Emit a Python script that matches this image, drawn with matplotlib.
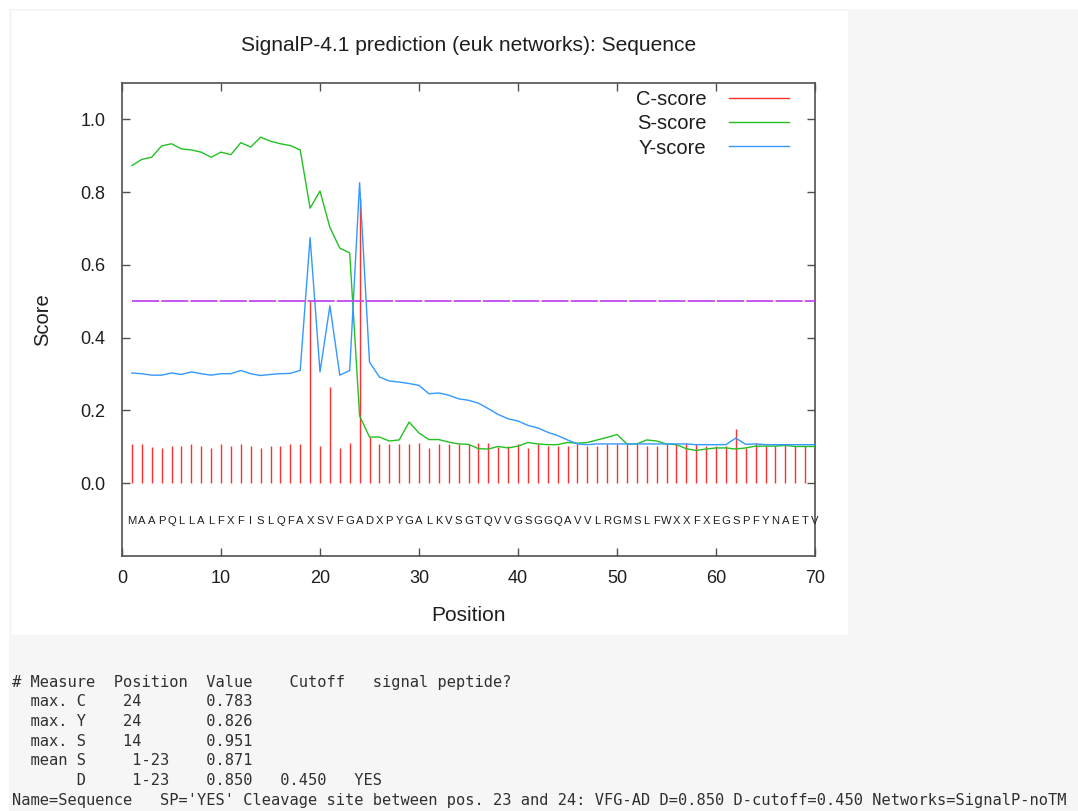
import matplotlib
matplotlib.use("Agg")
import matplotlib.pyplot as plt
from matplotlib.lines import Line2D
from matplotlib.patches import Rectangle

# ---- data -------------------------------------------------------------
positions = list(range(1, 71))
sequence = list("MAAPQLLALFXFISLQFAXSVFGADXPYGALKVSGTQVVGSGGQAVVLRGMSLFWXXFXEGSPFYNAETV")

c_score = [0.107, 0.107, 0.099, 0.098, 0.103, 0.103, 0.107, 0.103, 0.098, 0.107,
           0.103, 0.107, 0.103, 0.098, 0.103, 0.103, 0.107, 0.107, 0.501, 0.103,
           0.264, 0.098, 0.110, 0.783, 0.128, 0.107, 0.107, 0.107, 0.107, 0.110,
           0.098, 0.107, 0.107, 0.107, 0.107, 0.110, 0.110, 0.099, 0.103, 0.107,
           0.098, 0.107, 0.103, 0.103, 0.103, 0.107, 0.103, 0.103, 0.107, 0.107,
           0.107, 0.107, 0.103, 0.103, 0.107, 0.107, 0.110, 0.107, 0.103, 0.103,
           0.103, 0.150, 0.098, 0.110, 0.103, 0.103, 0.107, 0.103, 0.103, 0.103]

s_score = [0.873, 0.890, 0.896, 0.927, 0.933, 0.919, 0.916, 0.910, 0.896, 0.910,
           0.903, 0.936, 0.924, 0.951, 0.940, 0.933, 0.928, 0.916, 0.756, 0.803,
           0.703, 0.646, 0.633, 0.185, 0.127, 0.127, 0.116, 0.119, 0.168, 0.138,
           0.120, 0.120, 0.113, 0.108, 0.107, 0.095, 0.094, 0.101, 0.097, 0.102,
           0.112, 0.108, 0.106, 0.106, 0.112, 0.110, 0.112, 0.119, 0.126, 0.134,
           0.108, 0.108, 0.119, 0.116, 0.108, 0.106, 0.095, 0.090, 0.094, 0.097,
           0.097, 0.094, 0.097, 0.102, 0.102, 0.102, 0.104, 0.101, 0.101, 0.101]

y_score = [0.303, 0.301, 0.297, 0.297, 0.303, 0.299, 0.306, 0.301, 0.297, 0.301,
           0.301, 0.310, 0.301, 0.296, 0.299, 0.301, 0.302, 0.310, 0.675, 0.306,
           0.488, 0.297, 0.310, 0.826, 0.333, 0.292, 0.281, 0.278, 0.274, 0.269,
           0.246, 0.248, 0.242, 0.232, 0.228, 0.220, 0.205, 0.189, 0.177, 0.171,
           0.159, 0.152, 0.140, 0.131, 0.119, 0.108, 0.106, 0.108, 0.108, 0.108,
           0.108, 0.108, 0.108, 0.108, 0.108, 0.108, 0.108, 0.106, 0.106, 0.106,
           0.106, 0.124, 0.107, 0.108, 0.106, 0.106, 0.106, 0.106, 0.106, 0.106]

d_cutoff_line = 0.5

report_lines = [
    "# Measure  Position  Value    Cutoff   signal peptide?",
    "  max. C    24       0.783",
    "  max. Y    24       0.826",
    "  max. S    14       0.951",
    "  mean S     1-23    0.871",
    "       D     1-23    0.850   0.450   YES",
    "Name=Sequence   SP='YES' Cleavage site between pos. 23 and 24: VFG-AD "
    "D=0.850 D-cutoff=0.450 Networks=SignalP-noTM",
]

# ---- style ------------------------------------------------------------
RED = "#ff3030"
GREEN = "#22c022"
BLUE = "#3398ff"
PURPLE = "#c048f0"
TXT = "#1e1e1e"
FRAME = "#505050"
SANS = "Liberation Sans"

W, H = 1078, 811
fig = plt.figure(figsize=(W / 100, H / 100), dpi=100)
fig.patch.set_facecolor("white")

# page background and white plot panel
fig.add_artist(Rectangle((9 / W, 0), 1, 1 - 9 / H, transform=fig.transFigure,
                         facecolor="#f6f6f6", edgecolor="none", zorder=-20))
fig.add_artist(Rectangle((12 / W, 1 - 635 / H), (848 - 12) / W, (635 - 11) / H,
                         transform=fig.transFigure, facecolor="white",
                         edgecolor="none", zorder=-19))

ax = fig.add_axes([122 / W, 1 - 556 / H, (815 - 122) / W, (556 - 83) / H])
ax.set_facecolor("white")

ax.vlines(positions, 0, c_score, colors=RED, linewidth=1.0, zorder=2)
ax.plot(positions, s_score, color=GREEN, linewidth=1.0, zorder=3)
ax.plot(positions, y_score, color=BLUE, linewidth=1.0, zorder=4)
ax.plot([positions[0], positions[-1]], [d_cutoff_line, d_cutoff_line],
        color=PURPLE, linewidth=1.3, dashes=(15, 1.2), zorder=5)

for p, aa in zip(positions, sequence):
    ax.text(p, -0.105, aa, ha="center", va="center", fontsize=8.1,
            family=SANS, color=TXT)

ax.set_xlim(0, 70)
ax.set_ylim(-0.2, 1.1)
ax.set_xticks(range(0, 71, 10))
ax.set_yticks([0.0, 0.2, 0.4, 0.6, 0.8, 1.0])
ax.set_yticklabels(["0.0", "0.2", "0.4", "0.6", "0.8", "1.0"])
ax.tick_params(direction="in", length=6, width=1.0, color=FRAME,
               top=True, right=True, labelsize=13, labelcolor=TXT)
ax.tick_params(axis="x", pad=10)
ax.tick_params(axis="y", pad=12)
for lab in ax.get_xticklabels() + ax.get_yticklabels():
    lab.set_family(SANS)
for sp in ax.spines.values():
    sp.set_color(FRAME)
    sp.set_linewidth(1.2)

ax.set_title("SignalP-4.1 prediction (euk networks): Sequence",
             fontsize=15.1, family=SANS, color=TXT, pad=23)
ax.set_xlabel("Position", fontsize=15, family=SANS, color=TXT, labelpad=14)
ax.set_ylabel("Score", fontsize=14.5, family=SANS, color=TXT, labelpad=20)

handles = [Line2D([], [], color=RED, linewidth=1.0),
           Line2D([], [], color=GREEN, linewidth=1.0),
           Line2D([], [], color=BLUE, linewidth=1.0)]
ax.legend(handles, ["C-score", "S-score", "Y-score"], loc="upper right",
          bbox_to_anchor=(0.9856, 1.020),
          frameon=False, markerfirst=False, handlelength=2.98,
          handletextpad=1.12, labelspacing=0.27, borderaxespad=0.4,
          prop={"family": SANS, "size": 14.5}, labelcolor=TXT)

# textual report below the panel
y0 = 682
for i, line in enumerate(report_lines):
    fig.text(12 / W, 1 - (y0 + i * 19.7) / H, line, family="DejaVu Sans Mono",
             fontsize=11.1, va="center", ha="left", color="#303030")

fig.savefig("out.png", dpi=100)
